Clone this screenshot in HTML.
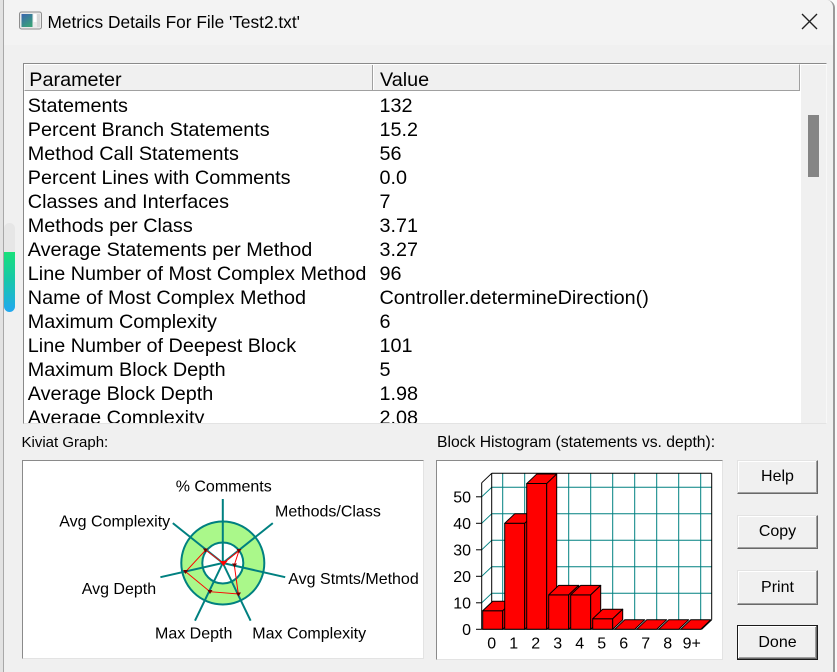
<!DOCTYPE html>
<html><head><meta charset="utf-8">
<style>
*{margin:0;padding:0;box-sizing:border-box}
html,body{width:837px;height:672px;overflow:hidden;background:#fafafa;font-family:"Liberation Sans",Arial,sans-serif;color:#000}
.a{position:absolute;white-space:nowrap}
.win{position:absolute;left:0;top:0;width:835px;height:672px;background:#f0f0f0;border-right:2px solid #9a9a9a;border-top-right-radius:8px;overflow:hidden}
.title{position:absolute;left:0;top:0;width:835px;height:45px;background:#f3f3f3}
.list{position:absolute;left:23px;top:63px;width:804px;height:361px;border:1px solid;border-color:#8a8a8a #f8f8f8 #e3e3e3 #8a8a8a;background:#fff;overflow:hidden}
.row{position:absolute;height:24px;line-height:24px;font-size:19.8px;white-space:nowrap}
.btn{position:absolute;left:737px;width:81px;background:#f0f0f0;border:1px solid;border-color:#e3e3e3 #696969 #696969 #e3e3e3;box-shadow:inset -1px -1px #a0a0a0,inset 1px 1px #fff;font-size:16px;display:flex;align-items:center;justify-content:center}
.box{position:absolute;background:#fff;border:1px solid;border-color:#8a8a8a #e3e3e3 #e3e3e3 #8a8a8a}
</style></head><body>
<div class="win">
<div class="title"></div>
<div class="a" style="left:47.5px;top:12.3px;font-size:17.3px;line-height:20px;">Metrics Details For File 'Test2.txt'</div>

<div class="list">
  <div class="a" style="left:0;top:0;width:776px;height:27px;background:#f0f0f0;border-top:1px solid #fff;border-left:1px solid #fff;border-bottom:1px solid #a0a0a0;border-right:1px solid #a0a0a0;"></div>
  <div class="a" style="left:348px;top:1px;width:1px;height:25px;background:#a0a0a0"></div>
  <div class="a" style="left:349px;top:1px;width:1px;height:25px;background:#fff"></div>
  <div class="row" style="left:5.3px;top:3.6px;">Parameter</div>
  <div class="row" style="left:356px;top:3.6px;">Value</div>
  <div class="a" style="left:777px;top:1px;width:25px;height:360px;background:#f0f0f0"></div>
  <div class="a" style="left:784.3px;top:51px;width:10.7px;height:61.7px;background:#858585"></div>
  <div class="row" style="left:3.8px;top:30.4px;">Statements</div><div class="row" style="left:355.5px;top:30.4px;">132</div>
  <div class="row" style="left:3.8px;top:54.4px;">Percent Branch Statements</div><div class="row" style="left:355.5px;top:54.4px;">15.2</div>
  <div class="row" style="left:3.8px;top:78.4px;">Method Call Statements</div><div class="row" style="left:355.5px;top:78.4px;">56</div>
  <div class="row" style="left:3.8px;top:102.4px;">Percent Lines with Comments</div><div class="row" style="left:355.5px;top:102.4px;">0.0</div>
  <div class="row" style="left:3.8px;top:126.4px;">Classes and Interfaces</div><div class="row" style="left:355.5px;top:126.4px;">7</div>
  <div class="row" style="left:3.8px;top:150.4px;">Methods per Class</div><div class="row" style="left:355.5px;top:150.4px;">3.71</div>
  <div class="row" style="left:3.8px;top:174.4px;">Average Statements per Method</div><div class="row" style="left:355.5px;top:174.4px;">3.27</div>
  <div class="row" style="left:3.8px;top:198.4px;">Line Number of Most Complex Method</div><div class="row" style="left:355.5px;top:198.4px;">96</div>
  <div class="row" style="left:3.8px;top:222.4px;">Name of Most Complex Method</div><div class="row" style="left:355.5px;top:222.4px;">Controller.determineDirection()</div>
  <div class="row" style="left:3.8px;top:246.4px;">Maximum Complexity</div><div class="row" style="left:355.5px;top:246.4px;">6</div>
  <div class="row" style="left:3.8px;top:270.4px;">Line Number of Deepest Block</div><div class="row" style="left:355.5px;top:270.4px;">101</div>
  <div class="row" style="left:3.8px;top:294.4px;">Maximum Block Depth</div><div class="row" style="left:355.5px;top:294.4px;">5</div>
  <div class="row" style="left:3.8px;top:318.4px;">Average Block Depth</div><div class="row" style="left:355.5px;top:318.4px;">1.98</div>
  <div class="row" style="left:3.8px;top:342.4px;">Average Complexity</div><div class="row" style="left:355.5px;top:342.4px;">2.08</div>
</div>

<div class="a" style="left:21.5px;top:433.5px;font-size:15px;line-height:18px;">Kiviat Graph:</div>
<div class="a" style="left:437px;top:434px;font-size:15.7px;line-height:18px;">Block Histogram (statements vs. depth):</div>

<div class="box" style="left:22px;top:460px;width:402px;height:199px;"></div>
<div class="box" style="left:436px;top:460px;width:287px;height:200px;"></div>

<div class="btn" style="top:460px;height:34px;">Help</div>
<div class="btn" style="top:515px;height:34px;">Copy</div>
<div class="btn" style="top:570px;height:35px;">Print</div>
<div class="btn" style="top:625px;height:35px;border:1px solid #1a1a1a;box-shadow:inset -1px -1px #696969,inset 1px 1px #fff,inset -2px -2px #a0a0a0;">Done</div>
</div>

<div class="a" style="left:0;top:0;width:3px;height:672px;background:#e2e2e2"></div>
<div class="a" style="left:3px;top:0;width:1px;height:672px;background:#a8a8a8"></div>
<div class="a" style="left:4px;top:223px;width:11px;height:40px;background:#e6e6e6;border-radius:5.5px 5.5px 0 0"></div>
<div class="a" style="left:4px;top:252px;width:11px;height:60px;background:linear-gradient(#19e07a,#17c8a8 45%,#22a8f0);border-radius:0 0 5.5px 5.5px"></div>

<svg class="a" style="left:0;top:0" width="837" height="672" viewBox="0 0 837 672" xmlns="http://www.w3.org/2000/svg">
  <rect x="19.5" y="12" width="22" height="17" rx="2" fill="#eaeaea" stroke="#8e8e8e"/>
  <defs>
    <linearGradient id="ig" x1="0" y1="0" x2="0.6" y2="1">
      <stop offset="0" stop-color="#3a64b0"/>
      <stop offset="1" stop-color="#3aa07a"/>
    </linearGradient>
  </defs>
  <rect x="21.5" y="14" width="11" height="13" fill="url(#ig)"/>
  <rect x="33.5" y="14" width="3" height="8" fill="#ffffff"/>
  <rect x="37" y="14" width="3" height="13" fill="#d8d8d8"/>
  <line x1="802" y1="14" x2="817" y2="29" stroke="#1f1f1f" stroke-width="1.3"/>
  <line x1="817" y1="14" x2="802" y2="29" stroke="#1f1f1f" stroke-width="1.3"/>

  <circle cx="222.8" cy="563" r="41.5" fill="#aaf88a" stroke="#008080" stroke-width="2"/>
  <circle cx="222.8" cy="563" r="20.5" fill="#ffffff" stroke="#008080" stroke-width="2"/>
  <g stroke="#008080" stroke-width="2">
    <line x1="222.8" y1="563" x2="222.8" y2="499"/>
    <line x1="222.8" y1="563" x2="272.8" y2="523.1"/>
    <line x1="222.8" y1="563" x2="285.2" y2="577.2"/>
    <line x1="222.8" y1="563" x2="250.6" y2="620.7"/>
    <line x1="222.8" y1="563" x2="195" y2="620.7"/>
    <line x1="222.8" y1="563" x2="160.4" y2="577.2"/>
    <line x1="222.8" y1="563" x2="172.8" y2="523.1"/>
  </g>
  <polygon points="223.3,563.3 239,550.7 234.3,565 238.3,594 210,591.7 185.7,571.7 205.7,550" fill="none" stroke="#ff0000" stroke-width="1"/>
  <g fill="#700000">
    <polygon points="236.5,549 241.5,549 239,553"/>
    <polygon points="232,563.5 237,563.5 234.5,567.5"/>
    <polygon points="236,592.5 241,592.5 238.5,596.5"/>
    <polygon points="207.5,590 212.5,590 210,594"/>
    <polygon points="183,570 188,570 185.5,574"/>
    <polygon points="203,548.5 208,548.5 205.5,552.5"/>
  </g>
  <polygon points="219.5,561 227.5,561 223.5,566" fill="#ff0000"/>
  <g font-family="Liberation Sans, Arial, sans-serif" font-size="16" fill="#000">
    <text x="175.7" y="491.7">% Comments</text>
    <text x="275" y="516.7">Methods/Class</text>
    <text x="59.3" y="526.7">Avg Complexity</text>
    <text x="288.3" y="584">Avg Stmts/Method</text>
    <text x="81.7" y="594">Avg Depth</text>
    <text x="155" y="638.3">Max Depth</text>
    <text x="252.3" y="638.3">Max Complexity</text>
  </g>

  <g stroke="#008080" stroke-width="1">
    <line x1="491.7" y1="593.3" x2="711.7" y2="593.3"/>
    <line x1="491.7" y1="566.8" x2="711.7" y2="566.8"/>
    <line x1="491.7" y1="540.3" x2="711.7" y2="540.3"/>
    <line x1="491.7" y1="513.8" x2="711.7" y2="513.8"/>
    <line x1="491.7" y1="487.3" x2="711.7" y2="487.3"/>
    <line x1="502.7" y1="473.3" x2="502.7" y2="619.8"/>
    <line x1="524.7" y1="473.3" x2="524.7" y2="619.8"/>
    <line x1="546.7" y1="473.3" x2="546.7" y2="619.8"/>
    <line x1="568.7" y1="473.3" x2="568.7" y2="619.8"/>
    <line x1="590.7" y1="473.3" x2="590.7" y2="619.8"/>
    <line x1="612.7" y1="473.3" x2="612.7" y2="619.8"/>
    <line x1="634.7" y1="473.3" x2="634.7" y2="619.8"/>
    <line x1="656.7" y1="473.3" x2="656.7" y2="619.8"/>
    <line x1="678.7" y1="473.3" x2="678.7" y2="619.8"/>
    <line x1="700.7" y1="473.3" x2="700.7" y2="619.8"/>
    <line x1="481.7" y1="602.8" x2="491.7" y2="593.3"/>
    <line x1="481.7" y1="576.3" x2="491.7" y2="566.8"/>
    <line x1="481.7" y1="549.8" x2="491.7" y2="540.3"/>
    <line x1="481.7" y1="523.3" x2="491.7" y2="513.8"/>
    <line x1="481.7" y1="496.8" x2="491.7" y2="487.3"/>
  </g>
  <g stroke="#000" stroke-width="1" fill="none">
    <line x1="491.7" y1="473.3" x2="711.7" y2="473.3"/>
    <line x1="711.7" y1="473.3" x2="711.7" y2="619.8"/>
    <line x1="491.7" y1="473.3" x2="491.7" y2="619.8"/>
    <line x1="481.7" y1="482.8" x2="481.7" y2="629.3"/>
    <line x1="481.7" y1="482.8" x2="491.7" y2="473.3"/>
    <line x1="481.7" y1="629.3" x2="701.7" y2="629.3"/>
    <line x1="701.7" y1="629.3" x2="711.7" y2="619.8"/>
    <line x1="476" y1="629.3" x2="481.7" y2="629.3"/>
    <line x1="476" y1="602.8" x2="481.7" y2="602.8"/>
    <line x1="476" y1="576.3" x2="481.7" y2="576.3"/>
    <line x1="476" y1="549.8" x2="481.7" y2="549.8"/>
    <line x1="476" y1="523.3" x2="481.7" y2="523.3"/>
    <line x1="476" y1="496.8" x2="481.7" y2="496.8"/>
  </g>
  <g fill="#ff0000" stroke="#000" stroke-width="1" stroke-linejoin="round">
    <rect x="482.7" y="610.75" width="20" height="18.55"/>
    <polygon points="482.7,610.75 502.7,610.75 512.7,601.25 492.7,601.25"/>
    <polygon points="502.7,610.75 512.7,601.25 512.7,619.8 502.7,629.3"/>
    <rect x="504.7" y="523.3" width="20" height="106"/>
    <polygon points="504.7,523.3 524.7,523.3 534.7,513.8 514.7,513.8"/>
    <polygon points="524.7,523.3 534.7,513.8 534.7,619.8 524.7,629.3"/>
    <rect x="526.7" y="483.55" width="20" height="145.75"/>
    <polygon points="526.7,483.55 546.7,483.55 556.7,474.05 536.7,474.05"/>
    <polygon points="546.7,483.55 556.7,474.05 556.7,619.8 546.7,629.3"/>
    <rect x="548.7" y="594.85" width="20" height="34.45"/>
    <polygon points="548.7,594.85 568.7,594.85 578.7,585.35 558.7,585.35"/>
    <polygon points="568.7,594.85 578.7,585.35 578.7,619.8 568.7,629.3"/>
    <rect x="570.7" y="594.85" width="20" height="34.45"/>
    <polygon points="570.7,594.85 590.7,594.85 600.7,585.35 580.7,585.35"/>
    <polygon points="590.7,594.85 600.7,585.35 600.7,619.8 590.7,629.3"/>
    <rect x="592.7" y="618.7" width="20" height="10.6"/>
    <polygon points="592.7,618.7 612.7,618.7 622.7,609.2 602.7,609.2"/>
    <polygon points="612.7,618.7 622.7,609.2 622.7,619.8 612.7,629.3"/>
    <polygon points="614.7,629.3 634.7,629.3 644.7,619.8 624.7,619.8"/>
    <polygon points="636.7,629.3 656.7,629.3 666.7,619.8 646.7,619.8"/>
    <polygon points="658.7,629.3 678.7,629.3 688.7,619.8 668.7,619.8"/>
    <polygon points="680.7,629.3 700.7,629.3 710.7,619.8 690.7,619.8"/>
  </g>
  <g font-family="Liberation Sans, Arial, sans-serif" font-size="16" fill="#000">
    <g text-anchor="end">
      <text x="471" y="635">0</text>
      <text x="471" y="608.5">10</text>
      <text x="471" y="582">20</text>
      <text x="471" y="555.5">30</text>
      <text x="471" y="529">40</text>
      <text x="471" y="502.5">50</text>
    </g>
    <g text-anchor="middle">
      <text x="491.7" y="648.3">0</text>
      <text x="513.7" y="648.3">1</text>
      <text x="535.7" y="648.3">2</text>
      <text x="557.7" y="648.3">3</text>
      <text x="579.7" y="648.3">4</text>
      <text x="601.7" y="648.3">5</text>
      <text x="623.7" y="648.3">6</text>
      <text x="645.7" y="648.3">7</text>
      <text x="667.7" y="648.3">8</text>
      <text x="691.7" y="648.3">9+</text>
    </g>
  </g>
</svg>
</body></html>
